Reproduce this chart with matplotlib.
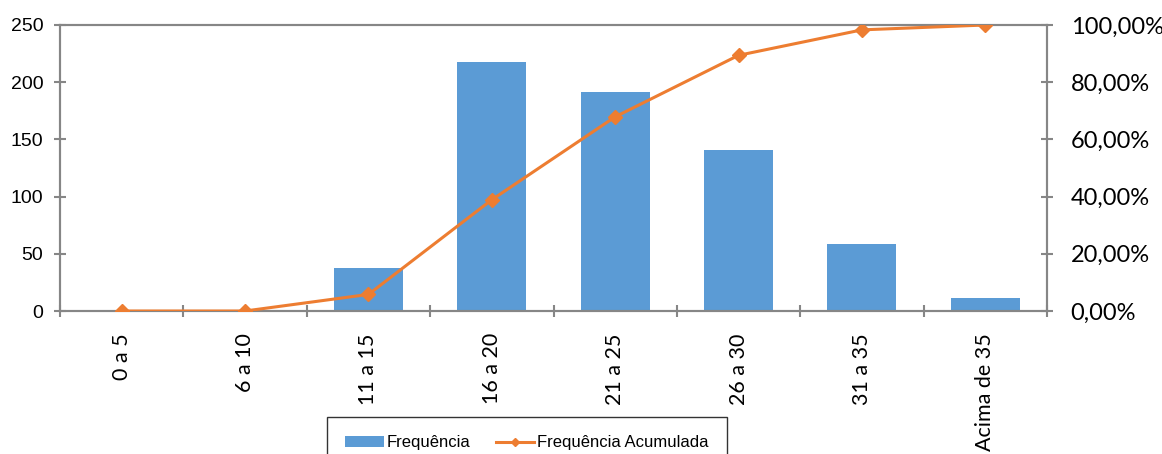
"""Pareto-style chart: frequency bars with cumulative frequency line."""

import matplotlib

matplotlib.use("Agg")
import matplotlib.pyplot as plt
from matplotlib import font_manager
from matplotlib.ticker import FuncFormatter

categories = ["0 a 5", "6 a 10", "11 a 15", "16 a 20", "21 a 25",
              "26 a 30", "31 a 35", "Acima de 35"]
frequencia = [0, 0, 38, 218, 191, 141, 59, 11]
acumulada = [0.0, 0.0, 0.058, 0.389, 0.679, 0.894, 0.983, 1.0]

BAR_COLOR = "#5B9BD5"
LINE_COLOR = "#ED7D31"
AXIS_COLOR = "#868686"


def legend_font():
    # narrow face if it is installed, otherwise a smaller regular face
    try:
        font_manager.findfont("Liberation Sans Narrow", fallback_to_default=False)
        return {"family": "Liberation Sans Narrow", "size": 14}
    except ValueError:
        return {"family": "Liberation Sans", "size": 12}


fig = plt.figure(figsize=(11.62, 4.54), dpi=100)
ax = fig.add_axes([60 / 1162, 1 - 311 / 454, (1047 - 60) / 1162, (311 - 25) / 454])
ax2 = ax.twinx()

x = list(range(len(categories)))
bars = ax.bar(x, frequencia, width=0.56, color=BAR_COLOR, label="Frequência", zorder=2)
line, = ax2.plot(x, acumulada, color=LINE_COLOR, linewidth=2.2, marker="D",
                 markersize=7, label="Frequência Acumulada", zorder=3)

ax.set_xlim(-0.5, len(categories) - 0.5)
ax.set_ylim(0, 250)
ax.set_yticks(range(0, 251, 50))
ax2.set_ylim(0, 1.0)
ax2.set_yticks([0, 0.2, 0.4, 0.6, 0.8, 1.0])
ax2.yaxis.set_major_formatter(
    FuncFormatter(lambda v, _: f"{v * 100:.2f}%".replace(".", ","))
)

ax.set_xticks(x)
ax.set_xticklabels(categories, rotation=90, va="top", ha="center",
                   family="Lato", fontsize=15.5)
ax.tick_params(axis="x", which="major", length=0, pad=16)
ax.set_xticks([i - 0.5 for i in range(len(categories) + 1)], minor=True)
ax.tick_params(axis="x", which="minor", length=9, direction="inout",
               color=AXIS_COLOR, width=1.5)

ax.tick_params(axis="y", length=8, direction="inout", color=AXIS_COLOR,
               width=1.5, pad=8, labelsize=14)
for lbl in ax.get_yticklabels():
    lbl.set_family("Liberation Sans")
ax2.tick_params(axis="y", length=8, direction="inout", color=AXIS_COLOR,
                width=1.5, pad=13, labelsize=17)
for lbl in ax2.get_yticklabels():
    lbl.set_family("Lato")

for a in (ax, ax2):
    for spine in a.spines.values():
        spine.set_color(AXIS_COLOR)
        spine.set_linewidth(1.5)

leg = fig.legend(
    [bars, line],
    ["Frequência", "Frequência Acumulada"],
    loc="upper left",
    bbox_to_anchor=(327 / 1162, 1 - 417 / 454),
    borderaxespad=0,
    ncol=2,
    frameon=True,
    fancybox=False,
    edgecolor="black",
    handlelength=2.3,
    handleheight=0.6,
    handletextpad=0.2,
    columnspacing=1.5,
    borderpad=1.1,
    prop=legend_font(),
)
leg.get_frame().set_linewidth(1.0)
leg.legend_handles[1].set_markersize(4)

fig.savefig("out.png", dpi=100)
